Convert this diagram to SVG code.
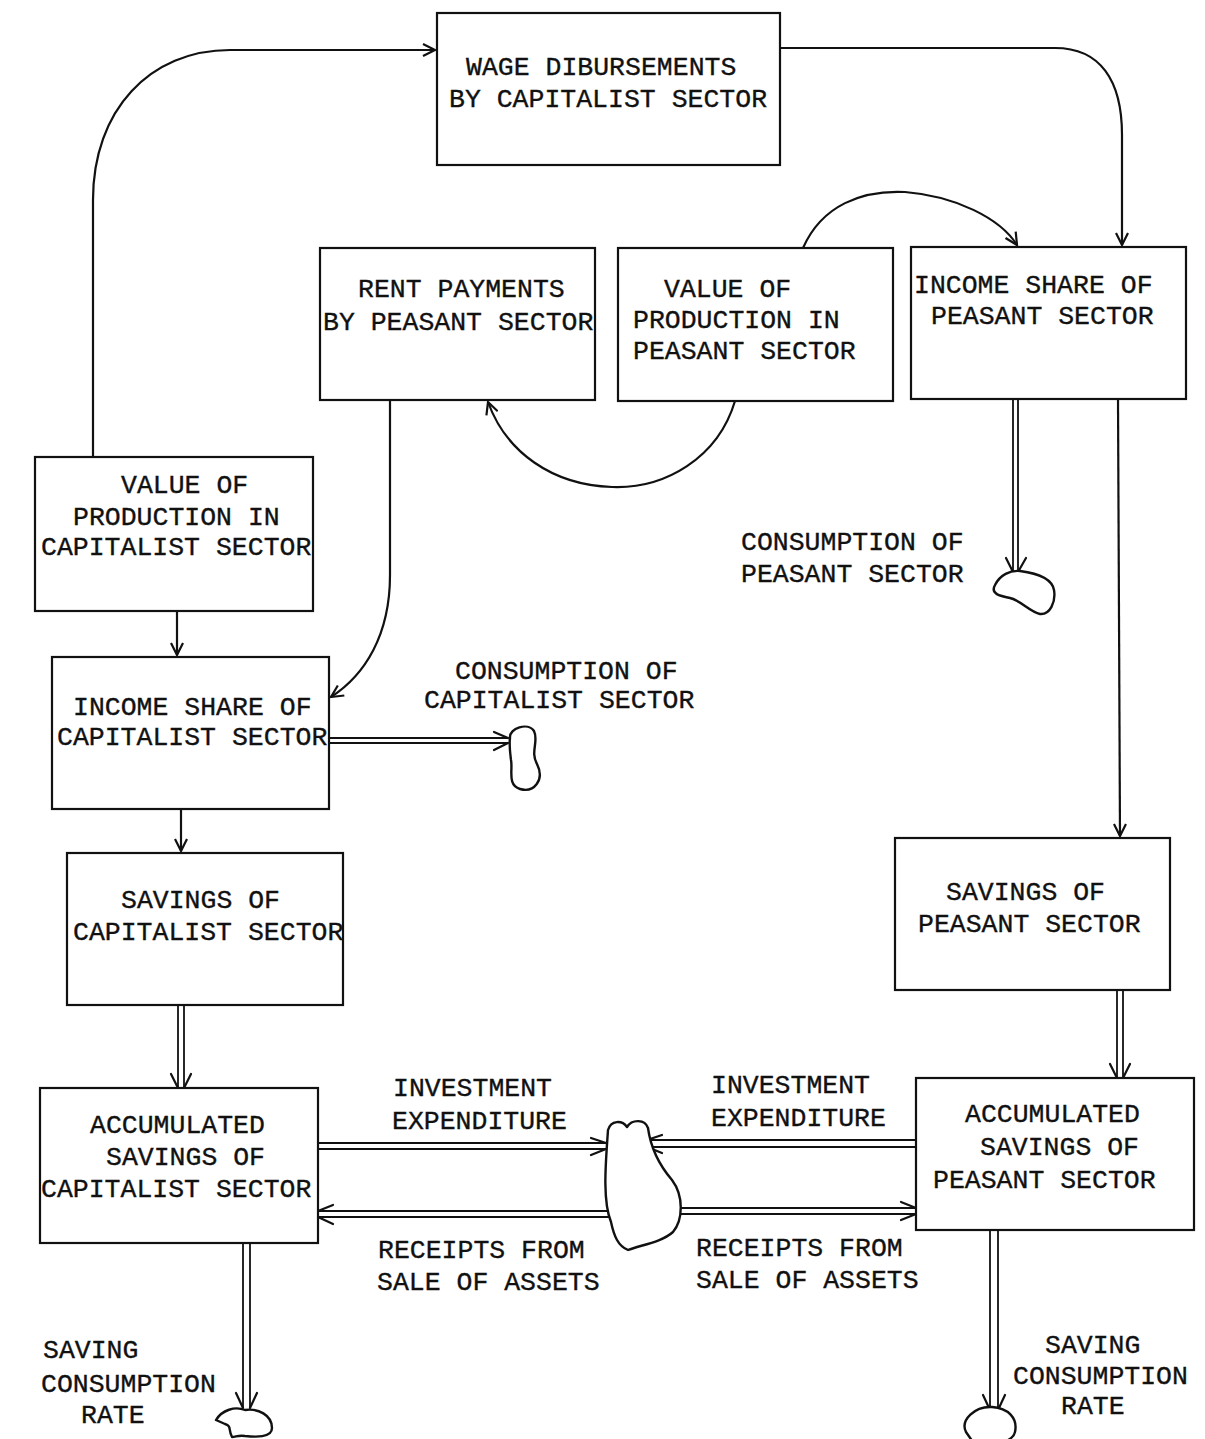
<svg xmlns="http://www.w3.org/2000/svg" width="1205" height="1439" viewBox="0 0 1205 1439">
  <style>
    .box { fill: #fff; stroke: #111; stroke-width: 2.2; }
    .lbl { font-family: "Liberation Mono", "Courier New", monospace; font-size: 26.5px; fill: #111; stroke: #111; stroke-width: 0.35; }
    .flow { fill: none; stroke: #111; stroke-width: 2.2; }
    .pipe { fill: none; stroke: #111; stroke-width: 1.8; }
    .barb { fill: none; stroke: #111; stroke-width: 2.2; stroke-linecap: round; }
    .cloud { fill: #fff; stroke: #111; stroke-width: 2.4; stroke-linejoin: round; }
  </style>
  <defs>
    <marker id="arr" markerUnits="userSpaceOnUse" markerWidth="16" markerHeight="14" refX="13" refY="7" orient="auto">
      <path d="M1,1 L13,7 L1,13" fill="none" stroke="#111" stroke-width="2.2"/>
    </marker>
  </defs>

  <rect width="1205" height="1439" fill="#fff"/>

  <!-- connectors -->
  <g id="connectors">
    <!-- information links -->
    <path class="flow" d="M93,457 L93,200 C93,110 150,50 230,50 L435,50" marker-end="url(#arr)"/>
    <path class="flow" d="M780,48 L1055,48 C1100,48 1122,80 1122,135 L1122,245" marker-end="url(#arr)"/>
    <path class="flow" d="M803,248 C822,205 862,190 905,192 C955,196 1000,218 1017,245" marker-end="url(#arr)"/>
    <path class="flow" d="M735,401 C718,458 665,489 612,487 C552,485 506,452 488,402" marker-end="url(#arr)"/>
    <path class="flow" d="M390,400 L390,575 C390,635 365,675 331,697" marker-end="url(#arr)"/>
    <path class="flow" d="M177,611 L177,655" marker-end="url(#arr)"/>
    <path class="flow" d="M181,809 L181,851" marker-end="url(#arr)"/>
    <path class="flow" d="M1118,399 L1120,836" marker-end="url(#arr)"/>

    <!-- material flows (double pipes) -->
    <!-- capitalist consumption -->
    <path class="pipe" d="M329,738 L508,738 M329,743 L508,743"/>
    <path class="barb" d="M494,732 L508,738 M494,750 L508,743"/>
    <!-- peasant consumption -->
    <path class="pipe" d="M1013,399 L1013,572 M1018,399 L1018,572"/>
    <path class="barb" d="M1006,558 L1013,572 M1026,558 L1018,572"/>
    <!-- savings into accumulated savings -->
    <path class="pipe" d="M178,1005 L178,1088 M184,1005 L184,1088"/>
    <path class="barb" d="M171,1074 L178,1088 M191,1074 L184,1088"/>
    <path class="pipe" d="M1117,990 L1117,1078 M1123,990 L1123,1078"/>
    <path class="barb" d="M1110,1064 L1117,1078 M1130,1064 L1123,1078"/>
    <!-- investment expenditure -->
    <path class="pipe" d="M318,1143 L606,1143 M318,1149 L606,1149"/>
    <path class="barb" d="M591,1138 L606,1143 M591,1155 L606,1149"/>
    <path class="pipe" d="M916,1140 L647,1140 M916,1147 L647,1147"/>
    <path class="barb" d="M662,1135 L647,1140 M662,1153 L647,1147"/>
    <!-- receipts from sale of assets -->
    <path class="pipe" d="M612,1211 L318,1211 M612,1217 L318,1217"/>
    <path class="barb" d="M333,1205 L318,1211 M333,1224 L318,1217"/>
    <path class="pipe" d="M680,1208 L916,1208 M680,1214 L916,1214"/>
    <path class="barb" d="M901,1202 L916,1208 M901,1220 L916,1214"/>
    <!-- saving / consumption outflows -->
    <path class="pipe" d="M243,1243 L243,1408 M250,1243 L250,1408"/>
    <path class="barb" d="M236,1393 L243,1408 M257,1393 L250,1408"/>
    <path class="pipe" d="M990,1230 L990,1410 M998,1230 L998,1410"/>
    <path class="barb" d="M983,1395 L990,1410 M1005,1395 L998,1410"/>
  </g>

  <!-- sources and sinks -->
  <g id="sink-cap-consumption">
    <path class="cloud" d="M510,738 C509,728 528,722 534,731 C539,741 530,752 537,764 C545,780 534,793 520,789 C507,785 513,770 511,760 C510,752 509,745 510,738 Z"/>
  </g>
  <g id="sink-peas-consumption">
    <path class="cloud" d="M995,585 C1000,575 1010,570 1020,571 C1035,573 1052,578 1054,590 C1056,602 1050,615 1040,614 C1030,612 1020,600 1010,598 C1000,596 990,594 995,585 Z"/>
  </g>
  <g id="asset-market">
    <path class="cloud" d="M608,1130 C611,1120 622,1120 627,1127 C632,1119 645,1119 648,1128 C651,1150 660,1166 672,1180 C684,1196 683,1220 673,1232 C662,1242 641,1245 628,1250 C618,1246 614,1236 611,1222 C602,1200 606,1160 608,1130 Z"/>
  </g>
  <g id="sink-cap-saving">
    <path class="cloud" d="M216,1420 C222,1410 235,1406 245,1410 C258,1408 272,1415 272,1428 C272,1438 255,1437 245,1436 C238,1435 236,1437 232,1437 C228,1430 232,1426 225,1424 Z"/>
  </g>
  <g id="sink-peas-saving">
    <path class="cloud" d="M966,1432 C960,1420 975,1406 992,1407 C1008,1408 1018,1418 1015,1432 C1013,1442 990,1448 975,1445 Z"/>
  </g>

  <!-- nodes -->
  <g id="wage-dibursements">
    <rect class="box" x="437" y="13" width="343" height="152"/>
    <text class="lbl" x="466" y="75">WAGE DIBURSEMENTS</text>
    <text class="lbl" x="449" y="107">BY CAPITALIST SECTOR</text>
  </g>
  <g id="rent-payments">
    <rect class="box" x="320" y="248" width="275" height="152"/>
    <text class="lbl" x="358" y="297">RENT PAYMENTS</text>
    <text class="lbl" x="323" y="330">BY PEASANT SECTOR</text>
  </g>
  <g id="value-production-peasant">
    <rect class="box" x="618" y="248" width="275" height="153"/>
    <text class="lbl" x="664" y="297">VALUE OF</text>
    <text class="lbl" x="633" y="328">PRODUCTION IN</text>
    <text class="lbl" x="633" y="359">PEASANT SECTOR</text>
  </g>
  <g id="income-share-peasant">
    <rect class="box" x="911" y="247" width="275" height="152"/>
    <text class="lbl" x="914" y="293">INCOME SHARE OF</text>
    <text class="lbl" x="931" y="324">PEASANT SECTOR</text>
  </g>
  <g id="value-production-capitalist">
    <rect class="box" x="35" y="457" width="278" height="154"/>
    <text class="lbl" x="121" y="493">VALUE OF</text>
    <text class="lbl" x="73" y="525">PRODUCTION IN</text>
    <text class="lbl" x="41" y="555">CAPITALIST SECTOR</text>
  </g>
  <g id="income-share-capitalist">
    <rect class="box" x="52" y="657" width="277" height="152"/>
    <text class="lbl" x="73" y="715">INCOME SHARE OF</text>
    <text class="lbl" x="57" y="745">CAPITALIST SECTOR</text>
  </g>
  <g id="savings-capitalist">
    <rect class="box" x="67" y="853" width="276" height="152"/>
    <text class="lbl" x="121" y="908">SAVINGS OF</text>
    <text class="lbl" x="73" y="940">CAPITALIST SECTOR</text>
  </g>
  <g id="accumulated-savings-capitalist">
    <rect class="box" x="40" y="1088" width="278" height="155"/>
    <text class="lbl" x="90" y="1133">ACCUMULATED</text>
    <text class="lbl" x="106" y="1165">SAVINGS OF</text>
    <text class="lbl" x="41" y="1197">CAPITALIST SECTOR</text>
  </g>
  <g id="savings-peasant">
    <rect class="box" x="895" y="838" width="275" height="152"/>
    <text class="lbl" x="946" y="900">SAVINGS OF</text>
    <text class="lbl" x="918" y="932">PEASANT SECTOR</text>
  </g>
  <g id="accumulated-savings-peasant">
    <rect class="box" x="916" y="1078" width="278" height="152"/>
    <text class="lbl" x="965" y="1122">ACCUMULATED</text>
    <text class="lbl" x="980" y="1155">SAVINGS OF</text>
    <text class="lbl" x="933" y="1188">PEASANT SECTOR</text>
  </g>

  <!-- flow labels -->
  <g id="flow-labels">
    <text class="lbl" x="741" y="550">CONSUMPTION OF</text>
    <text class="lbl" x="741" y="582">PEASANT SECTOR</text>
    <text class="lbl" x="455" y="679">CONSUMPTION OF</text>
    <text class="lbl" x="424" y="708">CAPITALIST SECTOR</text>
    <text class="lbl" x="393" y="1096">INVESTMENT</text>
    <text class="lbl" x="392" y="1129">EXPENDITURE</text>
    <text class="lbl" x="711" y="1093">INVESTMENT</text>
    <text class="lbl" x="711" y="1126">EXPENDITURE</text>
    <text class="lbl" x="378" y="1258">RECEIPTS FROM</text>
    <text class="lbl" x="377" y="1290">SALE OF ASSETS</text>
    <text class="lbl" x="696" y="1256">RECEIPTS FROM</text>
    <text class="lbl" x="696" y="1288">SALE OF ASSETS</text>
    <text class="lbl" x="43" y="1358">SAVING</text>
    <text class="lbl" x="41" y="1392">CONSUMPTION</text>
    <text class="lbl" x="81" y="1423">RATE</text>
    <text class="lbl" x="1045" y="1353">SAVING</text>
    <text class="lbl" x="1013" y="1384">CONSUMPTION</text>
    <text class="lbl" x="1061" y="1414">RATE</text>
  </g>
</svg>
